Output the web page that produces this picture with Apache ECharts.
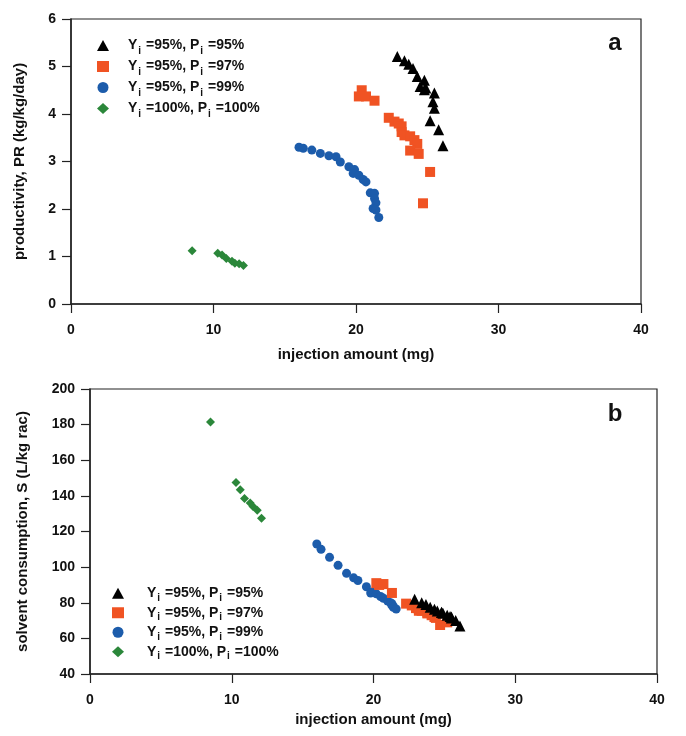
<!DOCTYPE html>
<html><head><meta charset="utf-8">
<script src="https://cdn.jsdelivr.net/npm/echarts@6/dist/echarts.min.js"></script>
<style>html,body{margin:0;padding:0;background:#fff}#c{width:686px;height:736px}</style>
</head><body><div id="c"></div>
<script>
// ---- data ----
var names = ['Y95P95', 'Y95P97', 'Y95P99', 'Y100P100'];
var legendLabels = ['Y{s|i} =95%, P{s|i} =95%', 'Y{s|i} =95%, P{s|i} =97%', 'Y{s|i} =95%, P{s|i} =99%', 'Y{s|i} =100%, P{s|i} =100%'];

var blackX  = [22.9, 23.4, 23.7, 24.0, 24.3, 24.8, 24.5, 24.9, 24.8, 25.5, 25.4, 25.5, 25.2, 25.8, 26.1];
var blackPR = [5.21, 5.12, 5.05, 4.96, 4.79, 4.71, 4.58, 4.55, 4.51, 4.44, 4.26, 4.12, 3.86, 3.67, 3.33];
var blackS  = [82.0, 80.0, 79.0, 77.5, 76.3, 74.5, 75.3, 74.1, 74.7, 72.0, 72.3, 71.5, 73.0, 70.0, 67.0];

var orangeX  = [20.4, 20.2, 20.7, 21.3, 22.3, 22.7, 23.0, 23.2, 23.2, 23.4, 23.8, 24.1, 24.3, 23.8, 24.4, 25.2, 24.7];
var orangePR = [4.50, 4.37, 4.37, 4.28, 3.92, 3.84, 3.80, 3.74, 3.62, 3.55, 3.53, 3.45, 3.37, 3.23, 3.16, 2.78, 2.12];
var orangeS  = [90.0, 91.0, 90.5, 85.5, 79.5, 78.5, 77.0, 76.5, 75.5, 75.5, 74.0, 73.0, 72.0, 74.5, 71.5, 69.0, 67.5];

var blueX  = [16.0, 16.3, 16.9, 17.5, 18.1, 18.6, 18.9, 19.5, 19.9, 19.8, 20.2, 20.5, 20.7, 21.0, 21.3, 21.3, 21.4, 21.2, 21.4, 21.6];
var bluePR = [3.30, 3.28, 3.24, 3.17, 3.12, 3.10, 2.99, 2.89, 2.83, 2.75, 2.71, 2.62, 2.57, 2.34, 2.33, 2.22, 2.13, 2.01, 1.98, 1.82];
var blueS  = [113.0, 110.0, 105.5, 101.0, 96.5, 94.0, 92.5, 89.0, 86.0, 85.5, 85.0, 83.5, 82.5, 81.0, 79.5, 78.5, 78.0, 80.0, 77.5, 76.5];

var greenX  = [8.5, 10.3, 10.6, 10.9, 11.3, 11.5, 11.8, 12.1];
var greenPR = [1.12, 1.07, 1.03, 0.96, 0.90, 0.86, 0.85, 0.81];
var greenS  = [181.5, 147.5, 143.5, 138.5, 136.0, 134.0, 132.0, 127.5];

// ---- styling ----
var FONT = '"Liberation Sans", Arial, sans-serif';
var colors = ['#000000', '#f05323', '#1c5cab', '#2b873a'];
var symbols = ['triangle', 'rect', 'circle', 'diamond'];
var sizes = [11, 10, 9, 9];

function zip(a, b) { return a.map(function (v, i) { return [v, b[i]]; }); }
var seriesX = [blackX, orangeX, blueX, greenX];
var seriesPR = [blackPR, orangePR, bluePR, greenPR];
var seriesS = [blackS, orangeS, blueS, greenS];

function axisCommon(idx, isY) {
  return {
    gridIndex: idx,
    axisLine: { show: true, onZero: false, lineStyle: { color: '#222', width: 1.5 } },
    axisTick: { show: true, inside: false, length: 9, lineStyle: { color: '#222', width: 1.2 } },
    axisLabel: { color: '#111', fontFamily: FONT, fontWeight: 'bold', fontSize: 14, margin: isY ? 15 : 19 },
    splitLine: { show: false },
    nameTextStyle: { color: '#111', fontFamily: FONT, fontWeight: 'bold', fontSize: 15 }
  };
}
function mk(base, extra) { for (var k in extra) base[k] = extra[k]; return base; }

var series = [];
for (var g = 0; g < 2; g++) {
  for (var i = 0; i < 4; i++) {
    series.push({
      name: names[i],
      type: 'scatter',
      xAxisIndex: g, yAxisIndex: g,
      symbol: symbols[i], symbolSize: sizes[i],
      itemStyle: { color: colors[i], opacity: 1 },
      data: zip(seriesX[i], g === 0 ? seriesPR[i] : seriesS[i]),
      z: 10 - i
    });
  }
}

function legendFor(left, top, lh, pad) {
  return {
    orient: 'vertical', left: left, top: top, padding: 0,
    itemWidth: 12, itemHeight: 11, itemGap: 0,
    data: names.map(function (n, i) { return { name: n, icon: symbols[i] }; }),
    formatter: function (n) { return legendLabels[names.indexOf(n)]; },
    selectedMode: false,
    textStyle: {
      fontFamily: FONT, fontWeight: 'bold', fontSize: 14, color: '#111', lineHeight: lh,
      padding: [0, 0, 0, pad],
      rich: { s: { fontFamily: FONT, fontWeight: 'bold', fontSize: 10, color: '#111', lineHeight: 9, verticalAlign: 'bottom', padding: [0, 1, 0, 1] } }
    }
  };
}

var chart = echarts.init(document.getElementById('c'), null, { renderer: 'canvas' });
chart.setOption({
  animation: false,
  backgroundColor: '#fff',
  grid: [
    { left: 71, top: 19, width: 570, height: 285, show: true, borderColor: '#222', borderWidth: 1.2 },
    { left: 90, top: 389, width: 567, height: 285, show: true, borderColor: '#222', borderWidth: 1.2 }
  ],
  xAxis: [
    mk(axisCommon(0, false), { type: 'value', min: 0, max: 40, interval: 10, name: 'injection amount (mg)', nameLocation: 'middle', nameGap: 43 }),
    mk(axisCommon(1, false), { type: 'value', min: 0, max: 40, interval: 10, name: 'injection amount (mg)', nameLocation: 'middle', nameGap: 38 })
  ],
  yAxis: [
    mk(axisCommon(0, true), { type: 'value', min: 0, max: 6, interval: 1, name: 'productivity, PR (kg/kg/day)', nameLocation: 'middle', nameGap: 44 }),
    mk(axisCommon(1, true), { type: 'value', min: 40, max: 200, interval: 20, name: 'solvent consumption, S (L/kg rac)', nameLocation: 'middle', nameGap: 60 })
  ],
  legend: [legendFor(97, 35, 21, 14), legendFor(112, 583.5, 19.5, 18)],
  graphic: [
    { type: 'text', x: 615, y: 43, style: { text: 'a', fontFamily: FONT, fontWeight: 'bold', fontSize: 24, fill: '#111', align: 'center', verticalAlign: 'middle' } },
    { type: 'text', x: 615, y: 414, style: { text: 'b', fontFamily: FONT, fontWeight: 'bold', fontSize: 24, fill: '#111', align: 'center', verticalAlign: 'middle' } }
  ],
  series: series
});
</script>
</body></html>
